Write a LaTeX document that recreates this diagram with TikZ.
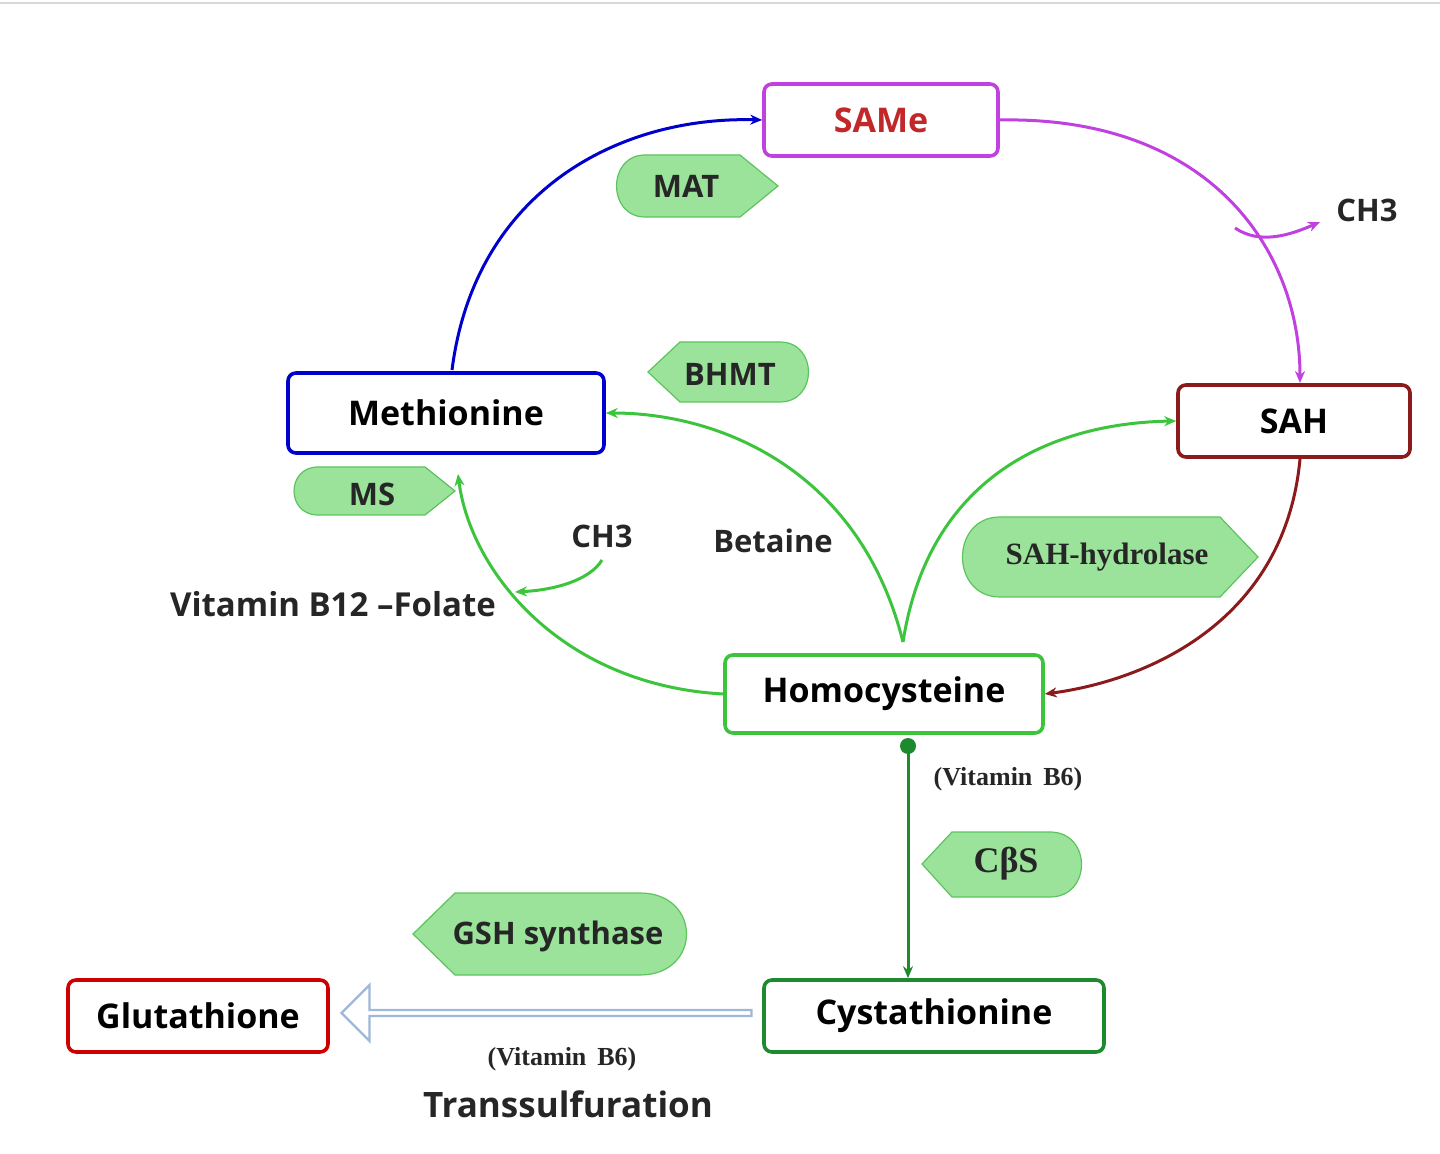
\documentclass[tikz,border=0pt]{standalone}
\usepackage{fontspec}
\setmainfont{Open Sans}
\newfontfamily\serifb{Liberation Serif}
\usetikzlibrary{arrows.meta,shapes.arrows}
\definecolor{tagfill}{HTML}{9BE39B}
\definecolor{tagline}{HTML}{5CC45C}
\definecolor{gline}{HTML}{3DC43D}
\definecolor{dgreen}{HTML}{1E8A2E}
\definecolor{magen}{HTML}{C040E0}
\definecolor{dred}{HTML}{8B1A1A}
\definecolor{samered}{HTML}{C0282A}
\definecolor{hblue}{HTML}{9DB8D8}
\begin{document}
\begin{tikzpicture}[x=0.5pt,y=-0.5pt,
  box/.style={draw,line width=1.8pt,rounded corners=4pt,fill=white,font=\bfseries\fontsize{17}{20}\selectfont,inner sep=0pt},
  tag/.style={fill=tagfill,draw=tagline,line width=0.6pt},
  tagtxt/.style={font=\bfseries\fontsize{15.5}{18}\selectfont,text=black!85},
  lbl/.style={font=\bfseries\fontsize{15.5}{18}\selectfont,text=black!85},
  sl/.style={font=\serifb\bfseries\fontsize{13}{15}\selectfont,text=black!85},
  con/.style={line width=1.5pt,-{Stealth[length=6pt,width=5pt]}}]
\useasboundingbox (0,0) rectangle (1440,1154);
\draw[black!15,line width=1pt] (0,3) -- (1440,3);
% boxes
\node[box,draw=magen,minimum width=117pt,minimum height=36pt,text=samered] (same) at (881,120) {SAMe};
\node[box,draw=dred,minimum width=116pt,minimum height=36pt] (sah) at (1294,421) {SAH};
\node[box,draw=blue!80!black,minimum width=158pt,minimum height=40pt] (met) at (446,413) {Methionine};
\node[box,draw=gline,minimum width=159pt,minimum height=39pt] (hcy) at (884,694) {Homocysteine};
\node[box,draw=dgreen,minimum width=170pt,minimum height=36pt] (cys) at (934,1016) {Cystathionine};
\node[box,draw=red!80!black,minimum width=130pt,minimum height=36pt] (glu) at (198,1016) {Glutathione};
% tags
\path[tag] (645,155) -- (740,155) -- (778,186) -- (740,217) -- (645,217) .. controls (607,217) and (607,155) .. cycle;
\node[tagtxt] (mat) at (686,186) {MAT};
\path[tag] (648,372) -- (680,342) -- (780,342) .. controls (818,342) and (818,402) .. (780,402) -- (680,402) -- cycle;
\node[tagtxt] (bhmt) at (730,374) {BHMT};
\path[tag] (318,467) -- (425,467) -- (455,491) -- (425,515) -- (318,515) .. controls (286,515) and (286,467) .. cycle;
\node[tagtxt] (ms) at (372,494) {MS};
\path[tag] (1000,517) -- (1220,517) -- (1258,557) -- (1220,597) -- (1000,597) .. controls (950,597) and (950,517) .. cycle;
\node[font=\serifb\bfseries\fontsize{15.5}{18}\selectfont,text=black!85] (sahh) at (1107,557) {SAH-hydrolase};
\path[tag] (922,864) -- (952,832) -- (1050,832) .. controls (1092,832) and (1092,897) .. (1050,897) -- (952,897) -- cycle;
\node[font=\serifb\bfseries\fontsize{18}{20}\selectfont,text=black!85] (cbs) at (1006,864) {CβS};
\path[tag] (413,934) -- (455,893) -- (640,893) .. controls (702,893) and (702,975) .. (640,975) -- (455,975) -- cycle;
\node[tagtxt] (gsh) at (558,936) {GSH synthase};
% labels
\node[lbl] (ch3a) at (1367,210) {CH3};
\node[lbl] (ch3b) at (602,536) {CH3};
\node[lbl] (bet) at (773,541) {Betaine};
\node[lbl,font=\bfseries\fontsize{16.5}{18}\selectfont] (vb12) at (333,604) {Vitamin B12 –Folate};
\node[sl] (vb6a) at (1008,779) {(Vitamin\, B6)};
\node[sl] (vb6b) at (562,1059) {(Vitamin\, B6)};
\node[font=\bfseries\fontsize{17.5}{20}\selectfont,text=black!85] (trans) at (568,1104) {Transsulfuration};
% connectors
\draw[con,blue!80!black] (452,370) .. controls (475,190) and (620,116) .. (same.west);
\draw[con,magen] (same.east) .. controls (1210,116) and (1300,250) .. (1300,383);
\coordinate (br) at (1235,228);
\draw[con,magen] (br) .. controls (1260,245) and (1290,235) .. (1320,222);
\draw[con,dred] (1300,459) .. controls (1285,620) and (1150,680) .. (hcy.east);
\coordinate (hv) at (903,642);
\draw[con,gline] (hv) .. controls (860,470) and (720,413) .. (met.east);
\draw[con,gline] (hv) .. controls (930,470) and (1060,423) .. (sah.west);
\draw[con,gline] (hcy.west) .. controls (560,685) and (470,570) .. (458,474);
\coordinate (cs) at (602,560);
\draw[con,gline] (cs) .. controls (590,580) and (555,590) .. (515,592);
\fill[dgreen] (908,746) circle (8);
\draw[con,dgreen] (908,746) -- (cys.north -| 908,0);
\node[single arrow,draw=hblue,line width=1.2pt,fill=white,minimum height=205pt,minimum width=28pt,single arrow head extend=5pt,shape border rotate=180,inner sep=0pt] (harr) at (548,1013) {};
\end{tikzpicture}
\end{document}
